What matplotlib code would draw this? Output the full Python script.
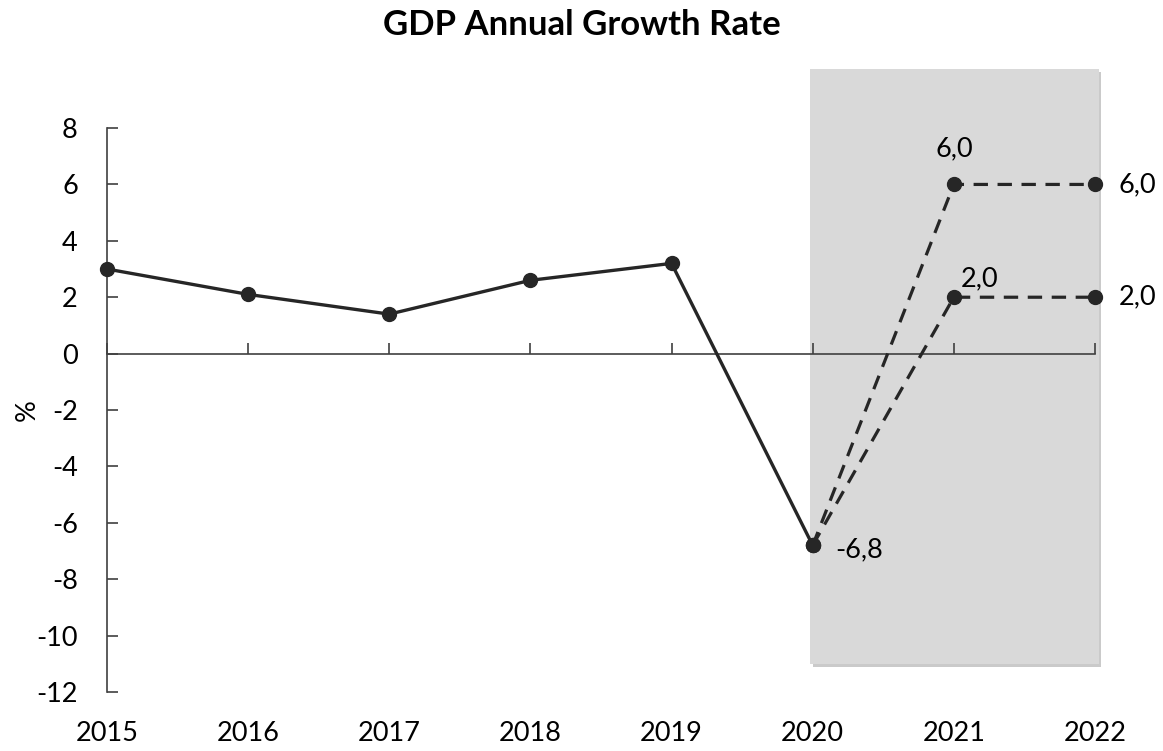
import matplotlib
matplotlib.use("Agg")
import matplotlib.pyplot as plt
from matplotlib.patches import Rectangle

years = [2015, 2016, 2017, 2018, 2019, 2020, 2021, 2022]
actual_years = [2015, 2016, 2017, 2018, 2019, 2020]
actual = [3.0, 2.1, 1.4, 2.6, 3.2, -6.8]
scen_years = [2020, 2021, 2022]
scen_high = [-6.8, 6.0, 6.0]
scen_low = [-6.8, 2.0, 2.0]
yticks = [-12, -10, -8, -6, -4, -2, 0, 2, 4, 6, 8]

plt.rcParams['font.family'] = ['Lato', 'DejaVu Sans']
fig = plt.figure(figsize=(11.63, 7.51), dpi=100)
ax = fig.add_axes([0.092, 0.0786, 0.8495, 0.8335])
ax.set_xlim(2015, 2022)
ax.set_ylim(-12, 10.2)

col = '#262626'
# shaded forecast area with soft shadow
ax.add_patch(Rectangle((2020.0, -11.12), 2.045, 21.1, facecolor='#cacaca', edgecolor='none',
                       zorder=0, clip_on=False))
ax.add_patch(Rectangle((2019.98, -11.0), 2.05, 21.1, facecolor='#d9d9d9', edgecolor='none',
                       zorder=0.5, clip_on=False))

ax.plot(scen_years, scen_high, color=col, lw=2.3, ls=(0, (4.5, 3)), marker='o', ms=10,
        clip_on=False, zorder=3)
ax.plot(scen_years, scen_low, color=col, lw=2.3, ls=(0, (4.5, 3)), marker='o', ms=10,
        clip_on=False, zorder=3)
ax.plot(actual_years, actual, color=col, lw=2.4, marker='o', ms=10, clip_on=False, zorder=4)

fs = 19.5
ax.annotate('6,0', (2021, 6.0), xytext=(0, 17), textcoords='offset points', ha='center',
            va='bottom', fontsize=fs)
ax.annotate('2,0', (2021, 2.0), xytext=(5, 4), textcoords='offset points', ha='left',
            va='bottom', fontsize=fs)
ax.annotate('6,0', (2022, 6.0), xytext=(17, 0), textcoords='offset points', ha='left',
            va='center', fontsize=fs)
ax.annotate('2,0', (2022, 2.0), xytext=(17, 0), textcoords='offset points', ha='left',
            va='center', fontsize=fs)
ax.annotate('-6,8', (2020, -6.8), xytext=(16, -3), textcoords='offset points', ha='left',
            va='center', fontsize=fs)

for s in ['top', 'right']:
    ax.spines[s].set_visible(False)
ax.spines['left'].set_bounds(-12, 8)
ax.spines['bottom'].set_position(('data', 0))
for s in ['left', 'bottom']:
    ax.spines[s].set_color('#404040')
    ax.spines[s].set_linewidth(1.2)
ax.set_yticks(yticks)
ax.set_yticklabels([str(v) for v in yticks], fontsize=fs)
ax.tick_params(axis='y', direction='in', length=8, width=1.2, color='#404040', pad=21)
ax.set_xticks(years)
ax.set_xticklabels([])
ax.tick_params(axis='x', direction='in', length=8, width=1.2, color='#404040')

for y in years:
    ax.annotate(str(y), (y, -12), xytext=(0, -30), textcoords='offset points',
                ha='center', va='center', fontsize=fs)

ax.set_ylabel('%', fontsize=fs)
ax.yaxis.set_label_coords(-0.068, 0.45)
fig.text(0.5, 0.967, 'GDP Annual Growth Rate', ha='center', va='center', fontsize=25,
         fontweight='bold')

fig.savefig('out.png', dpi=100)
